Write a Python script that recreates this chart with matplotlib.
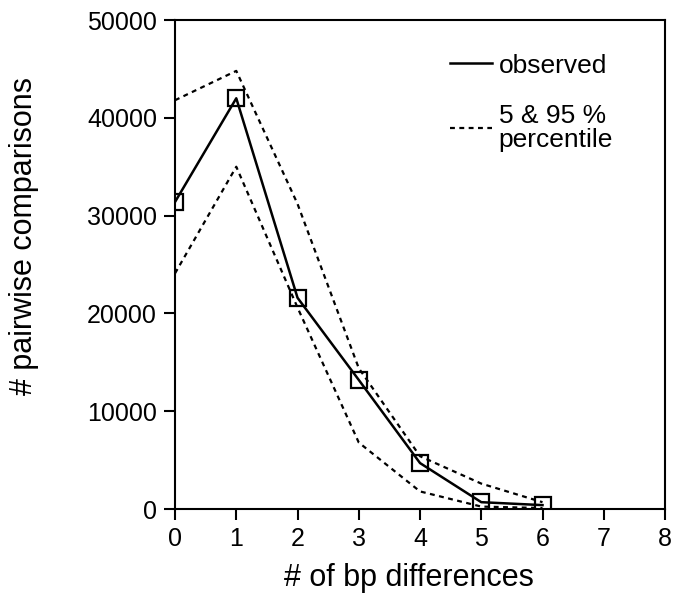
import matplotlib
matplotlib.use('Agg')
import matplotlib.pyplot as plt
from matplotlib.lines import Line2D

plt.rcParams['font.family'] = ['Liberation Sans', 'DejaVu Sans']

# values
bp_diff = [0, 1, 2, 3, 4, 5, 6]
observed = [31400, 42000, 21600, 13200, 4700, 700, 400]
upper_95 = [41800, 44800, 31200, 14400, 5400, 2600, 700]
lower_5 = [24100, 35000, 20600, 6800, 1800, 250, 100]

fig = plt.figure(figsize=(6.75, 6.07), dpi=100)
ax = fig.add_axes([0.2593, 0.1614, 0.7259, 0.8056])

ax.plot(bp_diff, observed, color='black', lw=1.8, marker='s', markersize=12,
        markerfacecolor='none', markeredgewidth=1.6, label='observed')
ax.plot(bp_diff, upper_95, color='black', lw=1.6, linestyle=(0, (2.2, 2)),
        label='5 & 95 %\npercentile')
ax.plot(bp_diff, lower_5, color='black', lw=1.6, linestyle=(0, (2.2, 2)))

ax.set_xlim(0, 8)
ax.set_ylim(0, 50000)
ax.set_xticks(range(0, 9))
ax.set_yticks(range(0, 50001, 10000))
ax.tick_params(direction='out', length=8, width=1.5, labelsize=18, pad=5)
for s in ax.spines.values():
    s.set_linewidth(1.5)

ax.set_xlabel('# of bp differences', fontsize=22)
ax.set_ylabel('# pairwise comparisons', fontsize=22)
ax.xaxis.set_label_coords(0.477, -0.11)
ax.yaxis.set_label_coords(-0.277, 0.558)

# legend shows plain line for observed
handles, labels = ax.get_legend_handles_labels()
handles[0] = Line2D([], [], color='black', lw=1.8)
leg = ax.legend(handles, labels, loc='upper left', frameon=False, fontsize=19,
                handlelength=1.6, handletextpad=0.25, labelspacing=1.0,
                borderpad=0.2, bbox_to_anchor=(0.523, 0.969))
leg.get_texts()[1].set_linespacing(1.0)

fig.savefig('out.png', dpi=100)
